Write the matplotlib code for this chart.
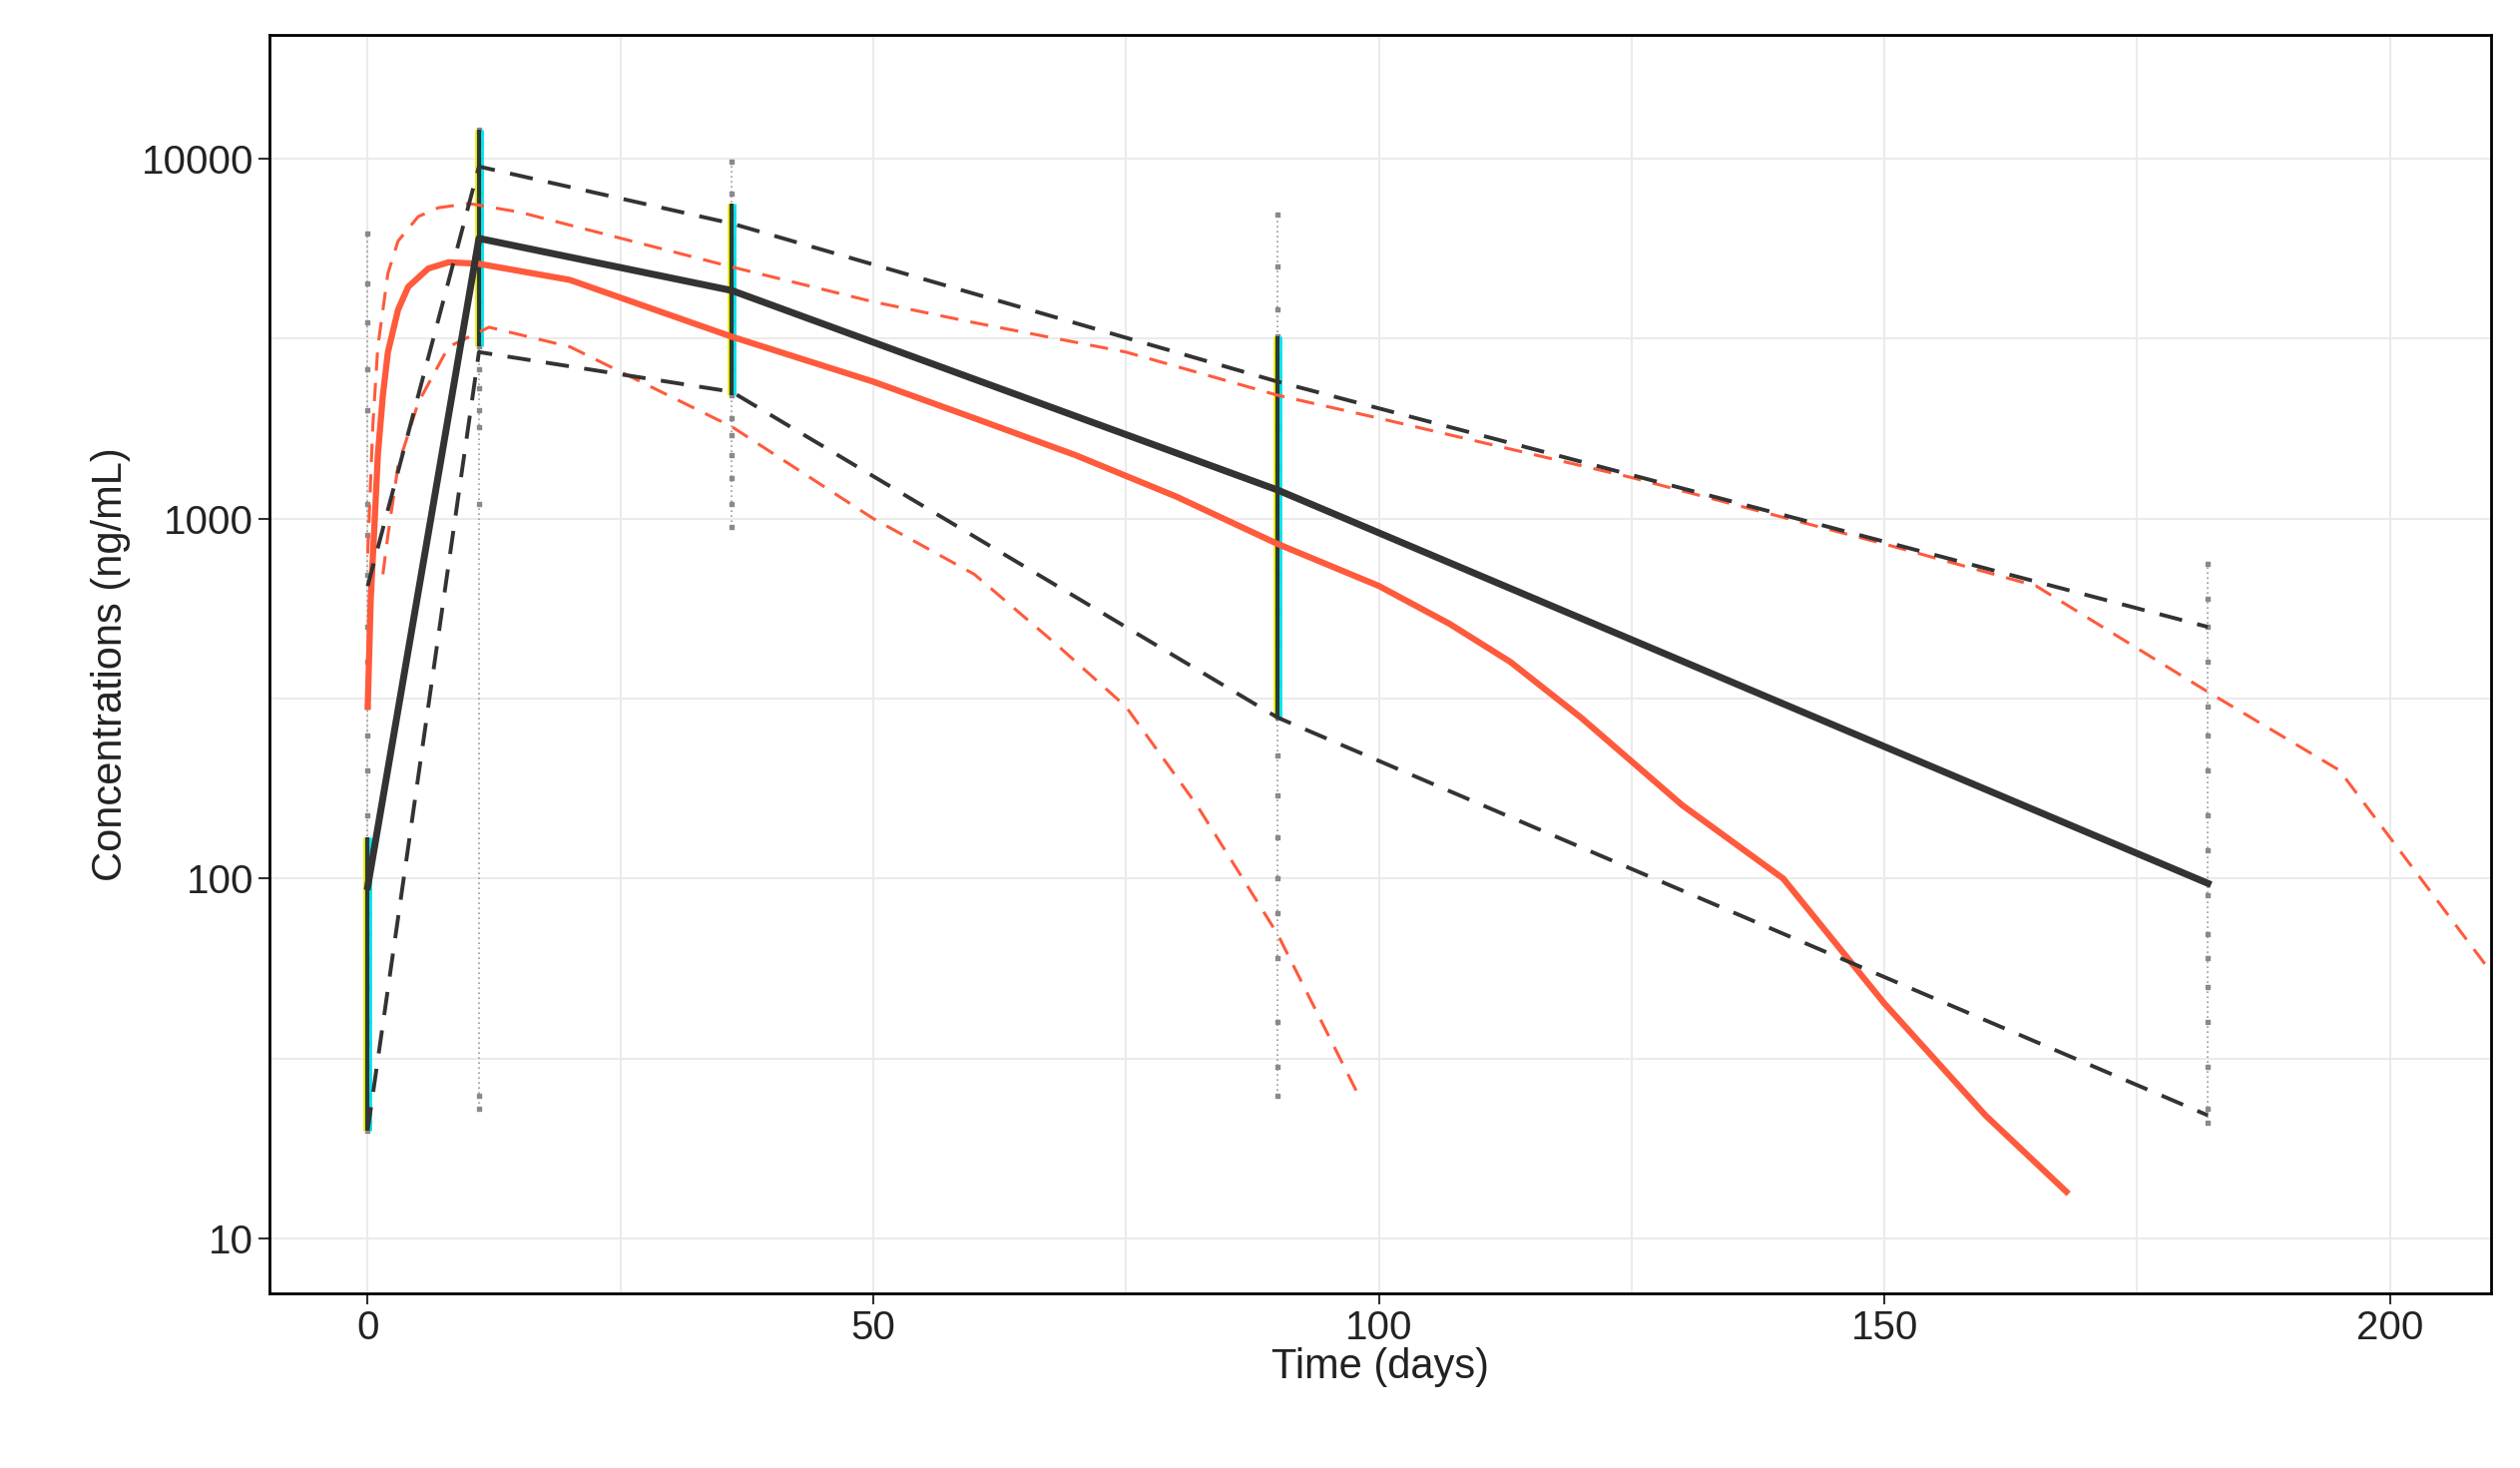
import numpy as np
import matplotlib
matplotlib.use("Agg")
import matplotlib.pyplot as plt

plt.rcParams["font.family"] = "Liberation Sans"

# observed-based percentiles (black)
obs_t = [0, 11, 36, 90, 182]
obs_med = [95, 6000, 4300, 1200, 97]
obs_hi = [650, 9500, 6600, 2400, 500]
obs_lo = [20, 2900, 2250, 280, 22]

# model-predicted percentiles (red)
pred_med_t = [0, 0.3, 0.7, 1, 1.5, 2, 3, 4, 6, 8, 11, 20, 36, 50, 60, 70, 80, 90, 100, 107, 113, 120, 130, 140, 150, 160, 168]
pred_med = [300, 600, 1000, 1500, 2200, 2900, 3800, 4400, 4950, 5150, 5100, 4600, 3200, 2400, 1900, 1500, 1150, 850, 650, 510, 400, 280, 160, 100, 45, 22, 13.5]
pred_hi_t = [0, 0.5, 1, 2, 3, 5, 7, 10, 15, 36, 50, 60, 75, 90, 100, 125, 150, 165, 182, 195, 210]
pred_hi = [800, 1800, 3000, 4800, 5900, 6900, 7300, 7500, 7100, 5000, 4000, 3500, 2900, 2200, 1900, 1300, 850, 650, 330, 200, 55]
pred_lo_t = [1.5, 2, 3, 5, 8, 12, 20, 36, 50, 60, 68, 75, 82, 90, 98]
pred_lo = [700, 900, 1400, 2100, 3000, 3400, 3000, 1800, 1000, 700, 450, 300, 160, 70, 25]

# individual observations
obs_points = {
    0: [20, 22, 25, 30, 35, 40, 50, 60, 70, 80, 90, 100, 120, 150, 200, 250, 300, 400, 500, 700, 900, 1100, 2000, 2600, 3500, 4500, 6200],
    11: [23, 25, 1100, 1800, 2000, 2300, 2600, 3000, 3500, 4000, 5000, 6000, 7000, 8000, 9000, 10000, 11000, 12000],
    36: [950, 1100, 1300, 1500, 1700, 1900, 2200, 2600, 3000, 3500, 4000, 4500, 5200, 6000, 7000, 8000, 9800],
    90: [25, 30, 40, 60, 80, 100, 130, 170, 220, 280, 350, 450, 550, 700, 900, 1100, 1400, 1800, 2300, 2800, 3200, 3800, 5000, 7000],
    182: [21, 23, 30, 40, 50, 60, 70, 90, 120, 150, 200, 250, 300, 400, 500, 600, 750],
}

fig = plt.figure(figsize=(25.25, 14.71), dpi=100)
ax = fig.add_axes([0.107, 0.119, 0.8815, 0.857])
ax.set_yscale("log")
ax.set_xlim(-9.7, 210)
ax.set_ylim(7.05, 22000)

ax.grid(True, which="both", color="#ebebeb", lw=1.5)
ax.set_axisbelow(True)

for t, vals in obs_points.items():
    v = np.array(vals)
    ax.vlines(t, v.min(), v.max(), color="#9a9a9a", lw=1.2, linestyles=(0, (1, 2)))
    ax.scatter([t] * len(v), v, marker="s", s=6, color="#8a8a8a", zorder=2)
# dense central clusters
dense = {0: (20, 130), 11: (3000, 12000), 36: (2200, 7500), 90: (280, 3200)}
for t, (a, b) in dense.items():
    ax.vlines(t - 0.3, a, b, color="#f0f000", lw=2, zorder=2)
    ax.vlines(t + 0.3, a, b, color="#00e5ee", lw=2, zorder=2)
    ax.vlines(t, a, b, color="#2a3a3a", lw=3, zorder=2)

red = "#ff5a3c"
ax.plot(pred_med_t, pred_med, color=red, lw=4.5, zorder=3)
ax.plot(pred_hi_t, pred_hi, color=red, lw=2.2, ls=(0, (6, 4)), zorder=3)
ax.plot(pred_lo_t, pred_lo, color=red, lw=2.2, ls=(0, (6, 4)), zorder=3)
blk = "#333333"
ax.plot(obs_t, obs_med, color=blk, lw=5, zorder=4)
ax.plot(obs_t, obs_hi, color=blk, lw=2.8, ls=(0, (6, 4)), zorder=4)
ax.plot(obs_t, obs_lo, color=blk, lw=2.8, ls=(0, (6, 4)), zorder=4)

ax.set_yticks([10, 100, 1000, 10000])
ax.set_yticklabels(["10", "100", "1000", "10000"])
ax.set_yticks([31.6, 316, 3162], minor=True)
ax.set_xticks([0, 50, 100, 150, 200])
ax.set_xticks([25, 75, 125, 175], minor=True)
ax.tick_params(which="minor", length=0)
ax.tick_params(which="major", labelsize=29, length=8, width=1.5, color="#333333", labelcolor="#222222")
for s in ax.spines.values():
    s.set_linewidth(2)
ax.set_xlabel("Time (days)", fontsize=30, labelpad=0, color="#222222")
ax.set_ylabel("Concentrations (ng/mL)", fontsize=30, labelpad=8, color="#222222")

fig.savefig("out.png", dpi=100)
